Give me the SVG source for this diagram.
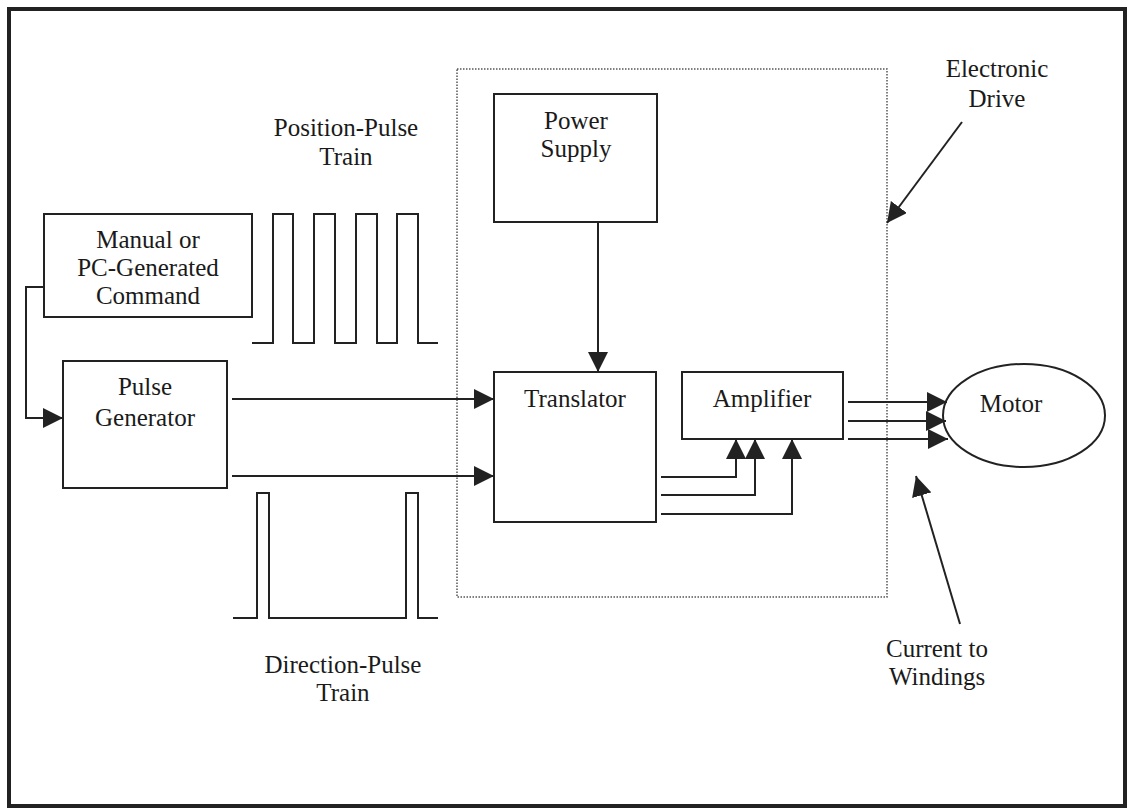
<svg xmlns="http://www.w3.org/2000/svg" width="1129" height="812" viewBox="0 0 1129 812">
<style>
.box{fill:#fff;stroke:#222;stroke-width:2}
.ln{fill:none;stroke:#222;stroke-width:2}
.t{font-family:"Liberation Serif","Times New Roman",serif;font-size:25px;fill:#1a1a1a;text-anchor:middle}
</style>
<defs>
<marker id="ah" markerUnits="userSpaceOnUse" markerWidth="20" markerHeight="20" viewBox="0 0 20 20" refX="20" refY="10" orient="auto">
<path d="M0,0 L20,10 L0,20 Z" fill="#222"/>
</marker>
</defs>
<rect x="0" y="0" width="1129" height="812" fill="#fff"/>
<rect x="9" y="9" width="1116" height="797" fill="none" stroke="#222" stroke-width="4"/>

<g id="electronic-drive">
<rect x="457" y="69" width="430" height="528" fill="none" stroke="#555" stroke-width="1.5" stroke-dasharray="1.5,1.5"/>
<text class="t" x="997" y="77">Electronic</text>
<text class="t" x="997" y="107">Drive</text>
</g>

<g id="manual-command">
<rect class="box" x="44" y="214" width="208" height="103"/>
<text class="t" x="148" y="248">Manual or</text>
<text class="t" x="148" y="276">PC-Generated</text>
<text class="t" x="148" y="304">Command</text>
</g>

<g id="pulse-generator">
<rect class="box" x="63" y="361" width="164" height="127"/>
<text class="t" x="145" y="395">Pulse</text>
<text class="t" x="145" y="426">Generator</text>
</g>

<g id="power-supply">
<rect class="box" x="494" y="94" width="163" height="128"/>
<text class="t" x="576" y="129">Power</text>
<text class="t" x="576" y="157">Supply</text>
</g>

<g id="translator">
<rect class="box" x="494" y="372" width="162" height="150"/>
<text class="t" x="575" y="407">Translator</text>
</g>

<g id="amplifier">
<rect class="box" x="682" y="372" width="161" height="67"/>
<text class="t" x="762" y="407">Amplifier</text>
</g>

<g id="motor">
<ellipse class="box" cx="1024" cy="415.5" rx="81" ry="51.5"/>
<text class="t" x="1011" y="412">Motor</text>
</g>

<g id="position-pulse-train">
<path class="ln" d="M252,343 H273 V214 H293 V343 H314 V214 H335 V343 H356 V214 H377 V343 H397 V214 H418 V343 H438"/>
<text class="t" x="346" y="136">Position-Pulse</text>
<text class="t" x="346" y="165">Train</text>
</g>

<g id="direction-pulse-train">
<path class="ln" d="M233,618 H257 V493 H269 V618 H406 V493 H418 V618 H438"/>
<text class="t" x="343" y="673">Direction-Pulse</text>
<text class="t" x="343" y="701">Train</text>
</g>

<g id="current-label">
<text class="t" x="937" y="657">Current to</text>
<text class="t" x="937" y="685">Windings</text>
</g>

<g id="connectors">
<path class="ln" d="M44,287 H26 V418 H63" marker-end="url(#ah)"/>
<path class="ln" d="M232,399 H494" marker-end="url(#ah)"/>
<path class="ln" d="M232,476 H494" marker-end="url(#ah)"/>
<path class="ln" d="M598,222 V372" marker-end="url(#ah)"/>
<path class="ln" d="M661,477 H736 V439" marker-end="url(#ah)"/>
<path class="ln" d="M661,495 H755 V439" marker-end="url(#ah)"/>
<path class="ln" d="M661,514 H792 V439" marker-end="url(#ah)"/>
<path class="ln" d="M848,402 H947" marker-end="url(#ah)"/>
<path class="ln" d="M848,421 H946" marker-end="url(#ah)"/>
<path class="ln" d="M848,439 H948" marker-end="url(#ah)"/>
<path class="ln" d="M962,122 L887,223" marker-end="url(#ah)"/>
<path class="ln" d="M960,624 L916,476" marker-end="url(#ah)"/>
</g>
</svg>
